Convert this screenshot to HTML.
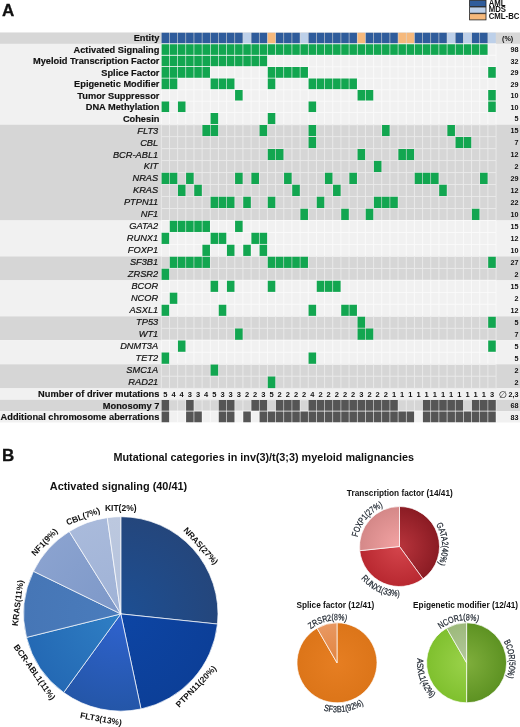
<!DOCTYPE html>
<html><head><meta charset="utf-8"><title>Figure</title>
<style>html,body{margin:0;padding:0;background:#fff}body{width:520px;height:727px;overflow:hidden}</style></head>
<body>
<svg width="520" height="727" viewBox="0 0 520 727" style="display:block">
<defs>
<style>
text{font-family:"Liberation Sans","DejaVu Sans",sans-serif;fill:#111}
.b{font-weight:bold}
.i{font-style:italic}
.lab{font-size:9.25px}
.i{stroke:#111;stroke-width:.2px}
.lab.b{stroke:#111;stroke-width:.15px}
.pc{font-size:7.2px;font-weight:bold}
.num{font-size:7.5px;font-weight:bold}
.pl{font-size:8.5px;font-weight:bold}
.sl{font-size:9px;fill:#1a222c;stroke:#1a222c;stroke-width:.22px}
.st{font-size:8.25px;font-weight:bold}
</style>
</defs>
<rect width="520" height="727" fill="#fff"/>
<rect x="0" y="32.45" width="520" height="11.45" fill="#d7d7d7"/>
<rect x="0" y="43.90" width="520" height="80.75" fill="#f1f1f1"/>
<rect x="0" y="124.65" width="520" height="95.84" fill="#d6d6d6"/>
<rect x="0" y="220.49" width="520" height="35.94" fill="#f1f1f1"/>
<rect x="0" y="256.43" width="520" height="23.96" fill="#d6d6d6"/>
<rect x="0" y="280.39" width="520" height="35.94" fill="#f1f1f1"/>
<rect x="0" y="316.33" width="520" height="23.96" fill="#d6d6d6"/>
<rect x="0" y="340.29" width="520" height="23.96" fill="#f1f1f1"/>
<rect x="0" y="364.25" width="520" height="24.15" fill="#d6d6d6"/>
<rect x="0" y="388.40" width="520" height="11.40" fill="#f1f1f1"/>
<rect x="0" y="399.80" width="520" height="11.40" fill="#d6d6d6"/>
<rect x="0" y="411.20" width="520" height="11.30" fill="#f1f1f1"/>
<path d="M161.60,32.75h7.56v10.85h-7.56zM169.76,32.75h7.56v10.85h-7.56zM177.93,32.75h7.56v10.85h-7.56zM186.09,32.75h7.56v10.85h-7.56zM194.26,32.75h7.56v10.85h-7.56zM202.42,32.75h7.56v10.85h-7.56zM210.59,32.75h7.56v10.85h-7.56zM218.75,32.75h7.56v10.85h-7.56zM226.92,32.75h7.56v10.85h-7.56zM235.08,32.75h7.56v10.85h-7.56zM251.41,32.75h7.56v10.85h-7.56zM259.58,32.75h7.56v10.85h-7.56zM275.91,32.75h7.56v10.85h-7.56zM284.07,32.75h7.56v10.85h-7.56zM292.24,32.75h7.56v10.85h-7.56zM308.57,32.75h7.56v10.85h-7.56zM316.74,32.75h7.56v10.85h-7.56zM324.90,32.75h7.56v10.85h-7.56zM333.06,32.75h7.56v10.85h-7.56zM341.23,32.75h7.56v10.85h-7.56zM349.39,32.75h7.56v10.85h-7.56zM365.72,32.75h7.56v10.85h-7.56zM373.89,32.75h7.56v10.85h-7.56zM382.05,32.75h7.56v10.85h-7.56zM390.22,32.75h7.56v10.85h-7.56zM414.71,32.75h7.56v10.85h-7.56zM422.88,32.75h7.56v10.85h-7.56zM431.04,32.75h7.56v10.85h-7.56zM439.21,32.75h7.56v10.85h-7.56zM455.54,32.75h7.56v10.85h-7.56zM471.87,32.75h7.56v10.85h-7.56zM480.03,32.75h7.56v10.85h-7.56z" fill="#2f5c9b"/>
<path d="M243.25,32.75h7.56v10.85h-7.56zM300.40,32.75h7.56v10.85h-7.56zM447.38,32.75h7.56v10.85h-7.56zM463.70,32.75h7.56v10.85h-7.56zM488.20,32.75h7.56v10.85h-7.56z" fill="#bdd0e9"/>
<path d="M267.75,32.75h7.56v10.85h-7.56zM357.56,32.75h7.56v10.85h-7.56zM398.38,32.75h7.56v10.85h-7.56zM406.55,32.75h7.56v10.85h-7.56z" fill="#f6b97c"/>
<path d="M161.30,43.90v11.45M169.46,43.90v11.45M177.63,43.90v11.45M185.79,43.90v11.45M193.96,43.90v11.45M202.12,43.90v11.45M210.29,43.90v11.45M218.45,43.90v11.45M226.62,43.90v11.45M234.78,43.90v11.45M242.95,43.90v11.45M251.11,43.90v11.45M259.28,43.90v11.45M267.44,43.90v11.45M275.61,43.90v11.45M283.77,43.90v11.45M291.94,43.90v11.45M300.10,43.90v11.45M308.27,43.90v11.45M316.44,43.90v11.45M324.60,43.90v11.45M332.76,43.90v11.45M340.93,43.90v11.45M349.09,43.90v11.45M357.26,43.90v11.45M365.42,43.90v11.45M373.59,43.90v11.45M381.75,43.90v11.45M389.92,43.90v11.45M398.08,43.90v11.45M406.25,43.90v11.45M414.41,43.90v11.45M422.58,43.90v11.45M430.74,43.90v11.45M438.91,43.90v11.45M447.07,43.90v11.45M455.24,43.90v11.45M463.40,43.90v11.45M471.57,43.90v11.45M479.73,43.90v11.45M487.90,43.90v11.45M496.06,43.90v11.45M161.30,43.90H496.06" fill="none" stroke="#fbfbfb" stroke-width="0.9"/>
<path d="M161.60,44.20h7.56v10.85h-7.56zM169.76,44.20h7.56v10.85h-7.56zM177.93,44.20h7.56v10.85h-7.56zM186.09,44.20h7.56v10.85h-7.56zM194.26,44.20h7.56v10.85h-7.56zM202.42,44.20h7.56v10.85h-7.56zM210.59,44.20h7.56v10.85h-7.56zM218.75,44.20h7.56v10.85h-7.56zM226.92,44.20h7.56v10.85h-7.56zM235.08,44.20h7.56v10.85h-7.56zM243.25,44.20h7.56v10.85h-7.56zM251.41,44.20h7.56v10.85h-7.56zM259.58,44.20h7.56v10.85h-7.56zM267.75,44.20h7.56v10.85h-7.56zM275.91,44.20h7.56v10.85h-7.56zM284.07,44.20h7.56v10.85h-7.56zM292.24,44.20h7.56v10.85h-7.56zM300.40,44.20h7.56v10.85h-7.56zM308.57,44.20h7.56v10.85h-7.56zM316.74,44.20h7.56v10.85h-7.56zM324.90,44.20h7.56v10.85h-7.56zM333.06,44.20h7.56v10.85h-7.56zM341.23,44.20h7.56v10.85h-7.56zM349.39,44.20h7.56v10.85h-7.56zM357.56,44.20h7.56v10.85h-7.56zM365.72,44.20h7.56v10.85h-7.56zM373.89,44.20h7.56v10.85h-7.56zM382.05,44.20h7.56v10.85h-7.56zM390.22,44.20h7.56v10.85h-7.56zM398.38,44.20h7.56v10.85h-7.56zM406.55,44.20h7.56v10.85h-7.56zM414.71,44.20h7.56v10.85h-7.56zM422.88,44.20h7.56v10.85h-7.56zM431.04,44.20h7.56v10.85h-7.56zM439.21,44.20h7.56v10.85h-7.56zM447.38,44.20h7.56v10.85h-7.56zM455.54,44.20h7.56v10.85h-7.56zM463.70,44.20h7.56v10.85h-7.56zM471.87,44.20h7.56v10.85h-7.56zM480.03,44.20h7.56v10.85h-7.56z" fill="#12a650"/>
<path d="M161.30,55.35v11.45M169.46,55.35v11.45M177.63,55.35v11.45M185.79,55.35v11.45M193.96,55.35v11.45M202.12,55.35v11.45M210.29,55.35v11.45M218.45,55.35v11.45M226.62,55.35v11.45M234.78,55.35v11.45M242.95,55.35v11.45M251.11,55.35v11.45M259.28,55.35v11.45M267.44,55.35v11.45M275.61,55.35v11.45M283.77,55.35v11.45M291.94,55.35v11.45M300.10,55.35v11.45M308.27,55.35v11.45M316.44,55.35v11.45M324.60,55.35v11.45M332.76,55.35v11.45M340.93,55.35v11.45M349.09,55.35v11.45M357.26,55.35v11.45M365.42,55.35v11.45M373.59,55.35v11.45M381.75,55.35v11.45M389.92,55.35v11.45M398.08,55.35v11.45M406.25,55.35v11.45M414.41,55.35v11.45M422.58,55.35v11.45M430.74,55.35v11.45M438.91,55.35v11.45M447.07,55.35v11.45M455.24,55.35v11.45M463.40,55.35v11.45M471.57,55.35v11.45M479.73,55.35v11.45M487.90,55.35v11.45M496.06,55.35v11.45M161.30,55.35H496.06" fill="none" stroke="#fbfbfb" stroke-width="0.9"/>
<path d="M161.60,55.65h7.56v10.85h-7.56zM169.76,55.65h7.56v10.85h-7.56zM177.93,55.65h7.56v10.85h-7.56zM186.09,55.65h7.56v10.85h-7.56zM194.26,55.65h7.56v10.85h-7.56zM202.42,55.65h7.56v10.85h-7.56zM210.59,55.65h7.56v10.85h-7.56zM218.75,55.65h7.56v10.85h-7.56zM226.92,55.65h7.56v10.85h-7.56zM235.08,55.65h7.56v10.85h-7.56zM243.25,55.65h7.56v10.85h-7.56zM251.41,55.65h7.56v10.85h-7.56zM259.58,55.65h7.56v10.85h-7.56z" fill="#12a650"/>
<path d="M161.30,66.80v11.45M169.46,66.80v11.45M177.63,66.80v11.45M185.79,66.80v11.45M193.96,66.80v11.45M202.12,66.80v11.45M210.29,66.80v11.45M218.45,66.80v11.45M226.62,66.80v11.45M234.78,66.80v11.45M242.95,66.80v11.45M251.11,66.80v11.45M259.28,66.80v11.45M267.44,66.80v11.45M275.61,66.80v11.45M283.77,66.80v11.45M291.94,66.80v11.45M300.10,66.80v11.45M308.27,66.80v11.45M316.44,66.80v11.45M324.60,66.80v11.45M332.76,66.80v11.45M340.93,66.80v11.45M349.09,66.80v11.45M357.26,66.80v11.45M365.42,66.80v11.45M373.59,66.80v11.45M381.75,66.80v11.45M389.92,66.80v11.45M398.08,66.80v11.45M406.25,66.80v11.45M414.41,66.80v11.45M422.58,66.80v11.45M430.74,66.80v11.45M438.91,66.80v11.45M447.07,66.80v11.45M455.24,66.80v11.45M463.40,66.80v11.45M471.57,66.80v11.45M479.73,66.80v11.45M487.90,66.80v11.45M496.06,66.80v11.45M161.30,66.80H496.06" fill="none" stroke="#fbfbfb" stroke-width="0.9"/>
<path d="M161.60,67.10h7.56v10.85h-7.56zM169.76,67.10h7.56v10.85h-7.56zM177.93,67.10h7.56v10.85h-7.56zM186.09,67.10h7.56v10.85h-7.56zM194.26,67.10h7.56v10.85h-7.56zM202.42,67.10h7.56v10.85h-7.56zM267.75,67.10h7.56v10.85h-7.56zM275.91,67.10h7.56v10.85h-7.56zM284.07,67.10h7.56v10.85h-7.56zM292.24,67.10h7.56v10.85h-7.56zM300.40,67.10h7.56v10.85h-7.56zM488.20,67.10h7.56v10.85h-7.56z" fill="#12a650"/>
<path d="M161.30,78.25v11.45M169.46,78.25v11.45M177.63,78.25v11.45M185.79,78.25v11.45M193.96,78.25v11.45M202.12,78.25v11.45M210.29,78.25v11.45M218.45,78.25v11.45M226.62,78.25v11.45M234.78,78.25v11.45M242.95,78.25v11.45M251.11,78.25v11.45M259.28,78.25v11.45M267.44,78.25v11.45M275.61,78.25v11.45M283.77,78.25v11.45M291.94,78.25v11.45M300.10,78.25v11.45M308.27,78.25v11.45M316.44,78.25v11.45M324.60,78.25v11.45M332.76,78.25v11.45M340.93,78.25v11.45M349.09,78.25v11.45M357.26,78.25v11.45M365.42,78.25v11.45M373.59,78.25v11.45M381.75,78.25v11.45M389.92,78.25v11.45M398.08,78.25v11.45M406.25,78.25v11.45M414.41,78.25v11.45M422.58,78.25v11.45M430.74,78.25v11.45M438.91,78.25v11.45M447.07,78.25v11.45M455.24,78.25v11.45M463.40,78.25v11.45M471.57,78.25v11.45M479.73,78.25v11.45M487.90,78.25v11.45M496.06,78.25v11.45M161.30,78.25H496.06" fill="none" stroke="#fbfbfb" stroke-width="0.9"/>
<path d="M161.60,78.55h7.56v10.85h-7.56zM169.76,78.55h7.56v10.85h-7.56zM210.59,78.55h7.56v10.85h-7.56zM218.75,78.55h7.56v10.85h-7.56zM226.92,78.55h7.56v10.85h-7.56zM267.75,78.55h7.56v10.85h-7.56zM308.57,78.55h7.56v10.85h-7.56zM316.74,78.55h7.56v10.85h-7.56zM324.90,78.55h7.56v10.85h-7.56zM333.06,78.55h7.56v10.85h-7.56zM341.23,78.55h7.56v10.85h-7.56zM349.39,78.55h7.56v10.85h-7.56z" fill="#12a650"/>
<path d="M161.30,89.70v11.45M169.46,89.70v11.45M177.63,89.70v11.45M185.79,89.70v11.45M193.96,89.70v11.45M202.12,89.70v11.45M210.29,89.70v11.45M218.45,89.70v11.45M226.62,89.70v11.45M234.78,89.70v11.45M242.95,89.70v11.45M251.11,89.70v11.45M259.28,89.70v11.45M267.44,89.70v11.45M275.61,89.70v11.45M283.77,89.70v11.45M291.94,89.70v11.45M300.10,89.70v11.45M308.27,89.70v11.45M316.44,89.70v11.45M324.60,89.70v11.45M332.76,89.70v11.45M340.93,89.70v11.45M349.09,89.70v11.45M357.26,89.70v11.45M365.42,89.70v11.45M373.59,89.70v11.45M381.75,89.70v11.45M389.92,89.70v11.45M398.08,89.70v11.45M406.25,89.70v11.45M414.41,89.70v11.45M422.58,89.70v11.45M430.74,89.70v11.45M438.91,89.70v11.45M447.07,89.70v11.45M455.24,89.70v11.45M463.40,89.70v11.45M471.57,89.70v11.45M479.73,89.70v11.45M487.90,89.70v11.45M496.06,89.70v11.45M161.30,89.70H496.06" fill="none" stroke="#fbfbfb" stroke-width="0.9"/>
<path d="M235.08,90.00h7.56v10.85h-7.56zM357.56,90.00h7.56v10.85h-7.56zM365.72,90.00h7.56v10.85h-7.56zM488.20,90.00h7.56v10.85h-7.56z" fill="#12a650"/>
<path d="M161.30,101.15v11.45M169.46,101.15v11.45M177.63,101.15v11.45M185.79,101.15v11.45M193.96,101.15v11.45M202.12,101.15v11.45M210.29,101.15v11.45M218.45,101.15v11.45M226.62,101.15v11.45M234.78,101.15v11.45M242.95,101.15v11.45M251.11,101.15v11.45M259.28,101.15v11.45M267.44,101.15v11.45M275.61,101.15v11.45M283.77,101.15v11.45M291.94,101.15v11.45M300.10,101.15v11.45M308.27,101.15v11.45M316.44,101.15v11.45M324.60,101.15v11.45M332.76,101.15v11.45M340.93,101.15v11.45M349.09,101.15v11.45M357.26,101.15v11.45M365.42,101.15v11.45M373.59,101.15v11.45M381.75,101.15v11.45M389.92,101.15v11.45M398.08,101.15v11.45M406.25,101.15v11.45M414.41,101.15v11.45M422.58,101.15v11.45M430.74,101.15v11.45M438.91,101.15v11.45M447.07,101.15v11.45M455.24,101.15v11.45M463.40,101.15v11.45M471.57,101.15v11.45M479.73,101.15v11.45M487.90,101.15v11.45M496.06,101.15v11.45M161.30,101.15H496.06" fill="none" stroke="#fbfbfb" stroke-width="0.9"/>
<path d="M161.60,101.45h7.56v10.85h-7.56zM177.93,101.45h7.56v10.85h-7.56zM308.57,101.45h7.56v10.85h-7.56zM488.20,101.45h7.56v10.85h-7.56z" fill="#12a650"/>
<path d="M161.30,112.60v12.05M169.46,112.60v12.05M177.63,112.60v12.05M185.79,112.60v12.05M193.96,112.60v12.05M202.12,112.60v12.05M210.29,112.60v12.05M218.45,112.60v12.05M226.62,112.60v12.05M234.78,112.60v12.05M242.95,112.60v12.05M251.11,112.60v12.05M259.28,112.60v12.05M267.44,112.60v12.05M275.61,112.60v12.05M283.77,112.60v12.05M291.94,112.60v12.05M300.10,112.60v12.05M308.27,112.60v12.05M316.44,112.60v12.05M324.60,112.60v12.05M332.76,112.60v12.05M340.93,112.60v12.05M349.09,112.60v12.05M357.26,112.60v12.05M365.42,112.60v12.05M373.59,112.60v12.05M381.75,112.60v12.05M389.92,112.60v12.05M398.08,112.60v12.05M406.25,112.60v12.05M414.41,112.60v12.05M422.58,112.60v12.05M430.74,112.60v12.05M438.91,112.60v12.05M447.07,112.60v12.05M455.24,112.60v12.05M463.40,112.60v12.05M471.57,112.60v12.05M479.73,112.60v12.05M487.90,112.60v12.05M496.06,112.60v12.05M161.30,112.60H496.06M161.30,124.65H496.06" fill="none" stroke="#fbfbfb" stroke-width="0.9"/>
<path d="M210.59,112.90h7.56v11.45h-7.56zM267.75,112.90h7.56v11.45h-7.56z" fill="#12a650"/>
<path d="M161.30,124.65v11.98M169.46,124.65v11.98M177.63,124.65v11.98M185.79,124.65v11.98M193.96,124.65v11.98M202.12,124.65v11.98M210.29,124.65v11.98M218.45,124.65v11.98M226.62,124.65v11.98M234.78,124.65v11.98M242.95,124.65v11.98M251.11,124.65v11.98M259.28,124.65v11.98M267.44,124.65v11.98M275.61,124.65v11.98M283.77,124.65v11.98M291.94,124.65v11.98M300.10,124.65v11.98M308.27,124.65v11.98M316.44,124.65v11.98M324.60,124.65v11.98M332.76,124.65v11.98M340.93,124.65v11.98M349.09,124.65v11.98M357.26,124.65v11.98M365.42,124.65v11.98M373.59,124.65v11.98M381.75,124.65v11.98M389.92,124.65v11.98M398.08,124.65v11.98M406.25,124.65v11.98M414.41,124.65v11.98M422.58,124.65v11.98M430.74,124.65v11.98M438.91,124.65v11.98M447.07,124.65v11.98M455.24,124.65v11.98M463.40,124.65v11.98M471.57,124.65v11.98M479.73,124.65v11.98M487.90,124.65v11.98M496.06,124.65v11.98M161.30,124.65H496.06" fill="none" stroke="#ebebeb" stroke-width="0.9"/>
<path d="M202.42,124.95h7.56v11.38h-7.56zM210.59,124.95h7.56v11.38h-7.56zM259.58,124.95h7.56v11.38h-7.56zM308.57,124.95h7.56v11.38h-7.56zM382.05,124.95h7.56v11.38h-7.56zM447.38,124.95h7.56v11.38h-7.56z" fill="#12a650"/>
<path d="M161.30,136.63v11.98M169.46,136.63v11.98M177.63,136.63v11.98M185.79,136.63v11.98M193.96,136.63v11.98M202.12,136.63v11.98M210.29,136.63v11.98M218.45,136.63v11.98M226.62,136.63v11.98M234.78,136.63v11.98M242.95,136.63v11.98M251.11,136.63v11.98M259.28,136.63v11.98M267.44,136.63v11.98M275.61,136.63v11.98M283.77,136.63v11.98M291.94,136.63v11.98M300.10,136.63v11.98M308.27,136.63v11.98M316.44,136.63v11.98M324.60,136.63v11.98M332.76,136.63v11.98M340.93,136.63v11.98M349.09,136.63v11.98M357.26,136.63v11.98M365.42,136.63v11.98M373.59,136.63v11.98M381.75,136.63v11.98M389.92,136.63v11.98M398.08,136.63v11.98M406.25,136.63v11.98M414.41,136.63v11.98M422.58,136.63v11.98M430.74,136.63v11.98M438.91,136.63v11.98M447.07,136.63v11.98M455.24,136.63v11.98M463.40,136.63v11.98M471.57,136.63v11.98M479.73,136.63v11.98M487.90,136.63v11.98M496.06,136.63v11.98M161.30,136.63H496.06" fill="none" stroke="#ebebeb" stroke-width="0.9"/>
<path d="M308.57,136.93h7.56v11.38h-7.56zM455.54,136.93h7.56v11.38h-7.56zM463.70,136.93h7.56v11.38h-7.56z" fill="#12a650"/>
<path d="M161.30,148.61v11.98M169.46,148.61v11.98M177.63,148.61v11.98M185.79,148.61v11.98M193.96,148.61v11.98M202.12,148.61v11.98M210.29,148.61v11.98M218.45,148.61v11.98M226.62,148.61v11.98M234.78,148.61v11.98M242.95,148.61v11.98M251.11,148.61v11.98M259.28,148.61v11.98M267.44,148.61v11.98M275.61,148.61v11.98M283.77,148.61v11.98M291.94,148.61v11.98M300.10,148.61v11.98M308.27,148.61v11.98M316.44,148.61v11.98M324.60,148.61v11.98M332.76,148.61v11.98M340.93,148.61v11.98M349.09,148.61v11.98M357.26,148.61v11.98M365.42,148.61v11.98M373.59,148.61v11.98M381.75,148.61v11.98M389.92,148.61v11.98M398.08,148.61v11.98M406.25,148.61v11.98M414.41,148.61v11.98M422.58,148.61v11.98M430.74,148.61v11.98M438.91,148.61v11.98M447.07,148.61v11.98M455.24,148.61v11.98M463.40,148.61v11.98M471.57,148.61v11.98M479.73,148.61v11.98M487.90,148.61v11.98M496.06,148.61v11.98M161.30,148.61H496.06" fill="none" stroke="#ebebeb" stroke-width="0.9"/>
<path d="M267.75,148.91h7.56v11.38h-7.56zM275.91,148.91h7.56v11.38h-7.56zM357.56,148.91h7.56v11.38h-7.56zM398.38,148.91h7.56v11.38h-7.56zM406.55,148.91h7.56v11.38h-7.56z" fill="#12a650"/>
<path d="M161.30,160.59v11.98M169.46,160.59v11.98M177.63,160.59v11.98M185.79,160.59v11.98M193.96,160.59v11.98M202.12,160.59v11.98M210.29,160.59v11.98M218.45,160.59v11.98M226.62,160.59v11.98M234.78,160.59v11.98M242.95,160.59v11.98M251.11,160.59v11.98M259.28,160.59v11.98M267.44,160.59v11.98M275.61,160.59v11.98M283.77,160.59v11.98M291.94,160.59v11.98M300.10,160.59v11.98M308.27,160.59v11.98M316.44,160.59v11.98M324.60,160.59v11.98M332.76,160.59v11.98M340.93,160.59v11.98M349.09,160.59v11.98M357.26,160.59v11.98M365.42,160.59v11.98M373.59,160.59v11.98M381.75,160.59v11.98M389.92,160.59v11.98M398.08,160.59v11.98M406.25,160.59v11.98M414.41,160.59v11.98M422.58,160.59v11.98M430.74,160.59v11.98M438.91,160.59v11.98M447.07,160.59v11.98M455.24,160.59v11.98M463.40,160.59v11.98M471.57,160.59v11.98M479.73,160.59v11.98M487.90,160.59v11.98M496.06,160.59v11.98M161.30,160.59H496.06" fill="none" stroke="#ebebeb" stroke-width="0.9"/>
<path d="M373.89,160.89h7.56v11.38h-7.56z" fill="#12a650"/>
<path d="M161.30,172.57v11.98M169.46,172.57v11.98M177.63,172.57v11.98M185.79,172.57v11.98M193.96,172.57v11.98M202.12,172.57v11.98M210.29,172.57v11.98M218.45,172.57v11.98M226.62,172.57v11.98M234.78,172.57v11.98M242.95,172.57v11.98M251.11,172.57v11.98M259.28,172.57v11.98M267.44,172.57v11.98M275.61,172.57v11.98M283.77,172.57v11.98M291.94,172.57v11.98M300.10,172.57v11.98M308.27,172.57v11.98M316.44,172.57v11.98M324.60,172.57v11.98M332.76,172.57v11.98M340.93,172.57v11.98M349.09,172.57v11.98M357.26,172.57v11.98M365.42,172.57v11.98M373.59,172.57v11.98M381.75,172.57v11.98M389.92,172.57v11.98M398.08,172.57v11.98M406.25,172.57v11.98M414.41,172.57v11.98M422.58,172.57v11.98M430.74,172.57v11.98M438.91,172.57v11.98M447.07,172.57v11.98M455.24,172.57v11.98M463.40,172.57v11.98M471.57,172.57v11.98M479.73,172.57v11.98M487.90,172.57v11.98M496.06,172.57v11.98M161.30,172.57H496.06" fill="none" stroke="#ebebeb" stroke-width="0.9"/>
<path d="M161.60,172.87h7.56v11.38h-7.56zM169.76,172.87h7.56v11.38h-7.56zM186.09,172.87h7.56v11.38h-7.56zM235.08,172.87h7.56v11.38h-7.56zM251.41,172.87h7.56v11.38h-7.56zM284.07,172.87h7.56v11.38h-7.56zM324.90,172.87h7.56v11.38h-7.56zM349.39,172.87h7.56v11.38h-7.56zM414.71,172.87h7.56v11.38h-7.56zM422.88,172.87h7.56v11.38h-7.56zM431.04,172.87h7.56v11.38h-7.56zM480.03,172.87h7.56v11.38h-7.56z" fill="#12a650"/>
<path d="M161.30,184.55v11.98M169.46,184.55v11.98M177.63,184.55v11.98M185.79,184.55v11.98M193.96,184.55v11.98M202.12,184.55v11.98M210.29,184.55v11.98M218.45,184.55v11.98M226.62,184.55v11.98M234.78,184.55v11.98M242.95,184.55v11.98M251.11,184.55v11.98M259.28,184.55v11.98M267.44,184.55v11.98M275.61,184.55v11.98M283.77,184.55v11.98M291.94,184.55v11.98M300.10,184.55v11.98M308.27,184.55v11.98M316.44,184.55v11.98M324.60,184.55v11.98M332.76,184.55v11.98M340.93,184.55v11.98M349.09,184.55v11.98M357.26,184.55v11.98M365.42,184.55v11.98M373.59,184.55v11.98M381.75,184.55v11.98M389.92,184.55v11.98M398.08,184.55v11.98M406.25,184.55v11.98M414.41,184.55v11.98M422.58,184.55v11.98M430.74,184.55v11.98M438.91,184.55v11.98M447.07,184.55v11.98M455.24,184.55v11.98M463.40,184.55v11.98M471.57,184.55v11.98M479.73,184.55v11.98M487.90,184.55v11.98M496.06,184.55v11.98M161.30,184.55H496.06" fill="none" stroke="#ebebeb" stroke-width="0.9"/>
<path d="M177.93,184.85h7.56v11.38h-7.56zM194.26,184.85h7.56v11.38h-7.56zM292.24,184.85h7.56v11.38h-7.56zM333.06,184.85h7.56v11.38h-7.56zM439.21,184.85h7.56v11.38h-7.56z" fill="#12a650"/>
<path d="M161.30,196.53v11.98M169.46,196.53v11.98M177.63,196.53v11.98M185.79,196.53v11.98M193.96,196.53v11.98M202.12,196.53v11.98M210.29,196.53v11.98M218.45,196.53v11.98M226.62,196.53v11.98M234.78,196.53v11.98M242.95,196.53v11.98M251.11,196.53v11.98M259.28,196.53v11.98M267.44,196.53v11.98M275.61,196.53v11.98M283.77,196.53v11.98M291.94,196.53v11.98M300.10,196.53v11.98M308.27,196.53v11.98M316.44,196.53v11.98M324.60,196.53v11.98M332.76,196.53v11.98M340.93,196.53v11.98M349.09,196.53v11.98M357.26,196.53v11.98M365.42,196.53v11.98M373.59,196.53v11.98M381.75,196.53v11.98M389.92,196.53v11.98M398.08,196.53v11.98M406.25,196.53v11.98M414.41,196.53v11.98M422.58,196.53v11.98M430.74,196.53v11.98M438.91,196.53v11.98M447.07,196.53v11.98M455.24,196.53v11.98M463.40,196.53v11.98M471.57,196.53v11.98M479.73,196.53v11.98M487.90,196.53v11.98M496.06,196.53v11.98M161.30,196.53H496.06" fill="none" stroke="#ebebeb" stroke-width="0.9"/>
<path d="M210.59,196.83h7.56v11.38h-7.56zM218.75,196.83h7.56v11.38h-7.56zM226.92,196.83h7.56v11.38h-7.56zM243.25,196.83h7.56v11.38h-7.56zM267.75,196.83h7.56v11.38h-7.56zM316.74,196.83h7.56v11.38h-7.56zM373.89,196.83h7.56v11.38h-7.56zM382.05,196.83h7.56v11.38h-7.56zM390.22,196.83h7.56v11.38h-7.56z" fill="#12a650"/>
<path d="M161.30,208.51v11.98M169.46,208.51v11.98M177.63,208.51v11.98M185.79,208.51v11.98M193.96,208.51v11.98M202.12,208.51v11.98M210.29,208.51v11.98M218.45,208.51v11.98M226.62,208.51v11.98M234.78,208.51v11.98M242.95,208.51v11.98M251.11,208.51v11.98M259.28,208.51v11.98M267.44,208.51v11.98M275.61,208.51v11.98M283.77,208.51v11.98M291.94,208.51v11.98M300.10,208.51v11.98M308.27,208.51v11.98M316.44,208.51v11.98M324.60,208.51v11.98M332.76,208.51v11.98M340.93,208.51v11.98M349.09,208.51v11.98M357.26,208.51v11.98M365.42,208.51v11.98M373.59,208.51v11.98M381.75,208.51v11.98M389.92,208.51v11.98M398.08,208.51v11.98M406.25,208.51v11.98M414.41,208.51v11.98M422.58,208.51v11.98M430.74,208.51v11.98M438.91,208.51v11.98M447.07,208.51v11.98M455.24,208.51v11.98M463.40,208.51v11.98M471.57,208.51v11.98M479.73,208.51v11.98M487.90,208.51v11.98M496.06,208.51v11.98M161.30,208.51H496.06M161.30,220.49H496.06" fill="none" stroke="#ebebeb" stroke-width="0.9"/>
<path d="M300.40,208.81h7.56v11.38h-7.56zM341.23,208.81h7.56v11.38h-7.56zM365.72,208.81h7.56v11.38h-7.56zM471.87,208.81h7.56v11.38h-7.56z" fill="#12a650"/>
<path d="M161.30,220.49v11.98M169.46,220.49v11.98M177.63,220.49v11.98M185.79,220.49v11.98M193.96,220.49v11.98M202.12,220.49v11.98M210.29,220.49v11.98M218.45,220.49v11.98M226.62,220.49v11.98M234.78,220.49v11.98M242.95,220.49v11.98M251.11,220.49v11.98M259.28,220.49v11.98M267.44,220.49v11.98M275.61,220.49v11.98M283.77,220.49v11.98M291.94,220.49v11.98M300.10,220.49v11.98M308.27,220.49v11.98M316.44,220.49v11.98M324.60,220.49v11.98M332.76,220.49v11.98M340.93,220.49v11.98M349.09,220.49v11.98M357.26,220.49v11.98M365.42,220.49v11.98M373.59,220.49v11.98M381.75,220.49v11.98M389.92,220.49v11.98M398.08,220.49v11.98M406.25,220.49v11.98M414.41,220.49v11.98M422.58,220.49v11.98M430.74,220.49v11.98M438.91,220.49v11.98M447.07,220.49v11.98M455.24,220.49v11.98M463.40,220.49v11.98M471.57,220.49v11.98M479.73,220.49v11.98M487.90,220.49v11.98M496.06,220.49v11.98M161.30,220.49H496.06" fill="none" stroke="#fbfbfb" stroke-width="0.9"/>
<path d="M169.76,220.79h7.56v11.38h-7.56zM177.93,220.79h7.56v11.38h-7.56zM186.09,220.79h7.56v11.38h-7.56zM194.26,220.79h7.56v11.38h-7.56zM202.42,220.79h7.56v11.38h-7.56zM235.08,220.79h7.56v11.38h-7.56z" fill="#12a650"/>
<path d="M161.30,232.47v11.98M169.46,232.47v11.98M177.63,232.47v11.98M185.79,232.47v11.98M193.96,232.47v11.98M202.12,232.47v11.98M210.29,232.47v11.98M218.45,232.47v11.98M226.62,232.47v11.98M234.78,232.47v11.98M242.95,232.47v11.98M251.11,232.47v11.98M259.28,232.47v11.98M267.44,232.47v11.98M275.61,232.47v11.98M283.77,232.47v11.98M291.94,232.47v11.98M300.10,232.47v11.98M308.27,232.47v11.98M316.44,232.47v11.98M324.60,232.47v11.98M332.76,232.47v11.98M340.93,232.47v11.98M349.09,232.47v11.98M357.26,232.47v11.98M365.42,232.47v11.98M373.59,232.47v11.98M381.75,232.47v11.98M389.92,232.47v11.98M398.08,232.47v11.98M406.25,232.47v11.98M414.41,232.47v11.98M422.58,232.47v11.98M430.74,232.47v11.98M438.91,232.47v11.98M447.07,232.47v11.98M455.24,232.47v11.98M463.40,232.47v11.98M471.57,232.47v11.98M479.73,232.47v11.98M487.90,232.47v11.98M496.06,232.47v11.98M161.30,232.47H496.06" fill="none" stroke="#fbfbfb" stroke-width="0.9"/>
<path d="M161.60,232.77h7.56v11.38h-7.56zM210.59,232.77h7.56v11.38h-7.56zM218.75,232.77h7.56v11.38h-7.56zM251.41,232.77h7.56v11.38h-7.56zM259.58,232.77h7.56v11.38h-7.56z" fill="#12a650"/>
<path d="M161.30,244.45v11.98M169.46,244.45v11.98M177.63,244.45v11.98M185.79,244.45v11.98M193.96,244.45v11.98M202.12,244.45v11.98M210.29,244.45v11.98M218.45,244.45v11.98M226.62,244.45v11.98M234.78,244.45v11.98M242.95,244.45v11.98M251.11,244.45v11.98M259.28,244.45v11.98M267.44,244.45v11.98M275.61,244.45v11.98M283.77,244.45v11.98M291.94,244.45v11.98M300.10,244.45v11.98M308.27,244.45v11.98M316.44,244.45v11.98M324.60,244.45v11.98M332.76,244.45v11.98M340.93,244.45v11.98M349.09,244.45v11.98M357.26,244.45v11.98M365.42,244.45v11.98M373.59,244.45v11.98M381.75,244.45v11.98M389.92,244.45v11.98M398.08,244.45v11.98M406.25,244.45v11.98M414.41,244.45v11.98M422.58,244.45v11.98M430.74,244.45v11.98M438.91,244.45v11.98M447.07,244.45v11.98M455.24,244.45v11.98M463.40,244.45v11.98M471.57,244.45v11.98M479.73,244.45v11.98M487.90,244.45v11.98M496.06,244.45v11.98M161.30,244.45H496.06M161.30,256.43H496.06" fill="none" stroke="#fbfbfb" stroke-width="0.9"/>
<path d="M202.42,244.75h7.56v11.38h-7.56zM226.92,244.75h7.56v11.38h-7.56zM243.25,244.75h7.56v11.38h-7.56zM259.58,244.75h7.56v11.38h-7.56z" fill="#12a650"/>
<path d="M161.30,256.43v11.98M169.46,256.43v11.98M177.63,256.43v11.98M185.79,256.43v11.98M193.96,256.43v11.98M202.12,256.43v11.98M210.29,256.43v11.98M218.45,256.43v11.98M226.62,256.43v11.98M234.78,256.43v11.98M242.95,256.43v11.98M251.11,256.43v11.98M259.28,256.43v11.98M267.44,256.43v11.98M275.61,256.43v11.98M283.77,256.43v11.98M291.94,256.43v11.98M300.10,256.43v11.98M308.27,256.43v11.98M316.44,256.43v11.98M324.60,256.43v11.98M332.76,256.43v11.98M340.93,256.43v11.98M349.09,256.43v11.98M357.26,256.43v11.98M365.42,256.43v11.98M373.59,256.43v11.98M381.75,256.43v11.98M389.92,256.43v11.98M398.08,256.43v11.98M406.25,256.43v11.98M414.41,256.43v11.98M422.58,256.43v11.98M430.74,256.43v11.98M438.91,256.43v11.98M447.07,256.43v11.98M455.24,256.43v11.98M463.40,256.43v11.98M471.57,256.43v11.98M479.73,256.43v11.98M487.90,256.43v11.98M496.06,256.43v11.98M161.30,256.43H496.06" fill="none" stroke="#ebebeb" stroke-width="0.9"/>
<path d="M169.76,256.73h7.56v11.38h-7.56zM177.93,256.73h7.56v11.38h-7.56zM186.09,256.73h7.56v11.38h-7.56zM194.26,256.73h7.56v11.38h-7.56zM202.42,256.73h7.56v11.38h-7.56zM267.75,256.73h7.56v11.38h-7.56zM275.91,256.73h7.56v11.38h-7.56zM284.07,256.73h7.56v11.38h-7.56zM292.24,256.73h7.56v11.38h-7.56zM300.40,256.73h7.56v11.38h-7.56zM488.20,256.73h7.56v11.38h-7.56z" fill="#12a650"/>
<path d="M161.30,268.41v11.98M169.46,268.41v11.98M177.63,268.41v11.98M185.79,268.41v11.98M193.96,268.41v11.98M202.12,268.41v11.98M210.29,268.41v11.98M218.45,268.41v11.98M226.62,268.41v11.98M234.78,268.41v11.98M242.95,268.41v11.98M251.11,268.41v11.98M259.28,268.41v11.98M267.44,268.41v11.98M275.61,268.41v11.98M283.77,268.41v11.98M291.94,268.41v11.98M300.10,268.41v11.98M308.27,268.41v11.98M316.44,268.41v11.98M324.60,268.41v11.98M332.76,268.41v11.98M340.93,268.41v11.98M349.09,268.41v11.98M357.26,268.41v11.98M365.42,268.41v11.98M373.59,268.41v11.98M381.75,268.41v11.98M389.92,268.41v11.98M398.08,268.41v11.98M406.25,268.41v11.98M414.41,268.41v11.98M422.58,268.41v11.98M430.74,268.41v11.98M438.91,268.41v11.98M447.07,268.41v11.98M455.24,268.41v11.98M463.40,268.41v11.98M471.57,268.41v11.98M479.73,268.41v11.98M487.90,268.41v11.98M496.06,268.41v11.98M161.30,268.41H496.06M161.30,280.39H496.06" fill="none" stroke="#ebebeb" stroke-width="0.9"/>
<path d="M161.60,268.71h7.56v11.38h-7.56z" fill="#12a650"/>
<path d="M161.30,280.39v11.98M169.46,280.39v11.98M177.63,280.39v11.98M185.79,280.39v11.98M193.96,280.39v11.98M202.12,280.39v11.98M210.29,280.39v11.98M218.45,280.39v11.98M226.62,280.39v11.98M234.78,280.39v11.98M242.95,280.39v11.98M251.11,280.39v11.98M259.28,280.39v11.98M267.44,280.39v11.98M275.61,280.39v11.98M283.77,280.39v11.98M291.94,280.39v11.98M300.10,280.39v11.98M308.27,280.39v11.98M316.44,280.39v11.98M324.60,280.39v11.98M332.76,280.39v11.98M340.93,280.39v11.98M349.09,280.39v11.98M357.26,280.39v11.98M365.42,280.39v11.98M373.59,280.39v11.98M381.75,280.39v11.98M389.92,280.39v11.98M398.08,280.39v11.98M406.25,280.39v11.98M414.41,280.39v11.98M422.58,280.39v11.98M430.74,280.39v11.98M438.91,280.39v11.98M447.07,280.39v11.98M455.24,280.39v11.98M463.40,280.39v11.98M471.57,280.39v11.98M479.73,280.39v11.98M487.90,280.39v11.98M496.06,280.39v11.98M161.30,280.39H496.06" fill="none" stroke="#fbfbfb" stroke-width="0.9"/>
<path d="M210.59,280.69h7.56v11.38h-7.56zM226.92,280.69h7.56v11.38h-7.56zM267.75,280.69h7.56v11.38h-7.56zM316.74,280.69h7.56v11.38h-7.56zM324.90,280.69h7.56v11.38h-7.56zM333.06,280.69h7.56v11.38h-7.56z" fill="#12a650"/>
<path d="M161.30,292.37v11.98M169.46,292.37v11.98M177.63,292.37v11.98M185.79,292.37v11.98M193.96,292.37v11.98M202.12,292.37v11.98M210.29,292.37v11.98M218.45,292.37v11.98M226.62,292.37v11.98M234.78,292.37v11.98M242.95,292.37v11.98M251.11,292.37v11.98M259.28,292.37v11.98M267.44,292.37v11.98M275.61,292.37v11.98M283.77,292.37v11.98M291.94,292.37v11.98M300.10,292.37v11.98M308.27,292.37v11.98M316.44,292.37v11.98M324.60,292.37v11.98M332.76,292.37v11.98M340.93,292.37v11.98M349.09,292.37v11.98M357.26,292.37v11.98M365.42,292.37v11.98M373.59,292.37v11.98M381.75,292.37v11.98M389.92,292.37v11.98M398.08,292.37v11.98M406.25,292.37v11.98M414.41,292.37v11.98M422.58,292.37v11.98M430.74,292.37v11.98M438.91,292.37v11.98M447.07,292.37v11.98M455.24,292.37v11.98M463.40,292.37v11.98M471.57,292.37v11.98M479.73,292.37v11.98M487.90,292.37v11.98M496.06,292.37v11.98M161.30,292.37H496.06" fill="none" stroke="#fbfbfb" stroke-width="0.9"/>
<path d="M169.76,292.67h7.56v11.38h-7.56z" fill="#12a650"/>
<path d="M161.30,304.35v11.98M169.46,304.35v11.98M177.63,304.35v11.98M185.79,304.35v11.98M193.96,304.35v11.98M202.12,304.35v11.98M210.29,304.35v11.98M218.45,304.35v11.98M226.62,304.35v11.98M234.78,304.35v11.98M242.95,304.35v11.98M251.11,304.35v11.98M259.28,304.35v11.98M267.44,304.35v11.98M275.61,304.35v11.98M283.77,304.35v11.98M291.94,304.35v11.98M300.10,304.35v11.98M308.27,304.35v11.98M316.44,304.35v11.98M324.60,304.35v11.98M332.76,304.35v11.98M340.93,304.35v11.98M349.09,304.35v11.98M357.26,304.35v11.98M365.42,304.35v11.98M373.59,304.35v11.98M381.75,304.35v11.98M389.92,304.35v11.98M398.08,304.35v11.98M406.25,304.35v11.98M414.41,304.35v11.98M422.58,304.35v11.98M430.74,304.35v11.98M438.91,304.35v11.98M447.07,304.35v11.98M455.24,304.35v11.98M463.40,304.35v11.98M471.57,304.35v11.98M479.73,304.35v11.98M487.90,304.35v11.98M496.06,304.35v11.98M161.30,304.35H496.06M161.30,316.33H496.06" fill="none" stroke="#fbfbfb" stroke-width="0.9"/>
<path d="M161.60,304.65h7.56v11.38h-7.56zM218.75,304.65h7.56v11.38h-7.56zM308.57,304.65h7.56v11.38h-7.56zM341.23,304.65h7.56v11.38h-7.56zM349.39,304.65h7.56v11.38h-7.56z" fill="#12a650"/>
<path d="M161.30,316.33v11.98M169.46,316.33v11.98M177.63,316.33v11.98M185.79,316.33v11.98M193.96,316.33v11.98M202.12,316.33v11.98M210.29,316.33v11.98M218.45,316.33v11.98M226.62,316.33v11.98M234.78,316.33v11.98M242.95,316.33v11.98M251.11,316.33v11.98M259.28,316.33v11.98M267.44,316.33v11.98M275.61,316.33v11.98M283.77,316.33v11.98M291.94,316.33v11.98M300.10,316.33v11.98M308.27,316.33v11.98M316.44,316.33v11.98M324.60,316.33v11.98M332.76,316.33v11.98M340.93,316.33v11.98M349.09,316.33v11.98M357.26,316.33v11.98M365.42,316.33v11.98M373.59,316.33v11.98M381.75,316.33v11.98M389.92,316.33v11.98M398.08,316.33v11.98M406.25,316.33v11.98M414.41,316.33v11.98M422.58,316.33v11.98M430.74,316.33v11.98M438.91,316.33v11.98M447.07,316.33v11.98M455.24,316.33v11.98M463.40,316.33v11.98M471.57,316.33v11.98M479.73,316.33v11.98M487.90,316.33v11.98M496.06,316.33v11.98M161.30,316.33H496.06" fill="none" stroke="#ebebeb" stroke-width="0.9"/>
<path d="M357.56,316.63h7.56v11.38h-7.56zM488.20,316.63h7.56v11.38h-7.56z" fill="#12a650"/>
<path d="M161.30,328.31v11.98M169.46,328.31v11.98M177.63,328.31v11.98M185.79,328.31v11.98M193.96,328.31v11.98M202.12,328.31v11.98M210.29,328.31v11.98M218.45,328.31v11.98M226.62,328.31v11.98M234.78,328.31v11.98M242.95,328.31v11.98M251.11,328.31v11.98M259.28,328.31v11.98M267.44,328.31v11.98M275.61,328.31v11.98M283.77,328.31v11.98M291.94,328.31v11.98M300.10,328.31v11.98M308.27,328.31v11.98M316.44,328.31v11.98M324.60,328.31v11.98M332.76,328.31v11.98M340.93,328.31v11.98M349.09,328.31v11.98M357.26,328.31v11.98M365.42,328.31v11.98M373.59,328.31v11.98M381.75,328.31v11.98M389.92,328.31v11.98M398.08,328.31v11.98M406.25,328.31v11.98M414.41,328.31v11.98M422.58,328.31v11.98M430.74,328.31v11.98M438.91,328.31v11.98M447.07,328.31v11.98M455.24,328.31v11.98M463.40,328.31v11.98M471.57,328.31v11.98M479.73,328.31v11.98M487.90,328.31v11.98M496.06,328.31v11.98M161.30,328.31H496.06M161.30,340.29H496.06" fill="none" stroke="#ebebeb" stroke-width="0.9"/>
<path d="M235.08,328.61h7.56v11.38h-7.56zM357.56,328.61h7.56v11.38h-7.56zM365.72,328.61h7.56v11.38h-7.56z" fill="#12a650"/>
<path d="M161.30,340.29v11.98M169.46,340.29v11.98M177.63,340.29v11.98M185.79,340.29v11.98M193.96,340.29v11.98M202.12,340.29v11.98M210.29,340.29v11.98M218.45,340.29v11.98M226.62,340.29v11.98M234.78,340.29v11.98M242.95,340.29v11.98M251.11,340.29v11.98M259.28,340.29v11.98M267.44,340.29v11.98M275.61,340.29v11.98M283.77,340.29v11.98M291.94,340.29v11.98M300.10,340.29v11.98M308.27,340.29v11.98M316.44,340.29v11.98M324.60,340.29v11.98M332.76,340.29v11.98M340.93,340.29v11.98M349.09,340.29v11.98M357.26,340.29v11.98M365.42,340.29v11.98M373.59,340.29v11.98M381.75,340.29v11.98M389.92,340.29v11.98M398.08,340.29v11.98M406.25,340.29v11.98M414.41,340.29v11.98M422.58,340.29v11.98M430.74,340.29v11.98M438.91,340.29v11.98M447.07,340.29v11.98M455.24,340.29v11.98M463.40,340.29v11.98M471.57,340.29v11.98M479.73,340.29v11.98M487.90,340.29v11.98M496.06,340.29v11.98M161.30,340.29H496.06" fill="none" stroke="#fbfbfb" stroke-width="0.9"/>
<path d="M177.93,340.59h7.56v11.38h-7.56zM488.20,340.59h7.56v11.38h-7.56z" fill="#12a650"/>
<path d="M161.30,352.27v11.98M169.46,352.27v11.98M177.63,352.27v11.98M185.79,352.27v11.98M193.96,352.27v11.98M202.12,352.27v11.98M210.29,352.27v11.98M218.45,352.27v11.98M226.62,352.27v11.98M234.78,352.27v11.98M242.95,352.27v11.98M251.11,352.27v11.98M259.28,352.27v11.98M267.44,352.27v11.98M275.61,352.27v11.98M283.77,352.27v11.98M291.94,352.27v11.98M300.10,352.27v11.98M308.27,352.27v11.98M316.44,352.27v11.98M324.60,352.27v11.98M332.76,352.27v11.98M340.93,352.27v11.98M349.09,352.27v11.98M357.26,352.27v11.98M365.42,352.27v11.98M373.59,352.27v11.98M381.75,352.27v11.98M389.92,352.27v11.98M398.08,352.27v11.98M406.25,352.27v11.98M414.41,352.27v11.98M422.58,352.27v11.98M430.74,352.27v11.98M438.91,352.27v11.98M447.07,352.27v11.98M455.24,352.27v11.98M463.40,352.27v11.98M471.57,352.27v11.98M479.73,352.27v11.98M487.90,352.27v11.98M496.06,352.27v11.98M161.30,352.27H496.06M161.30,364.25H496.06" fill="none" stroke="#fbfbfb" stroke-width="0.9"/>
<path d="M161.60,352.57h7.56v11.38h-7.56zM308.57,352.57h7.56v11.38h-7.56z" fill="#12a650"/>
<path d="M161.30,364.25v11.98M169.46,364.25v11.98M177.63,364.25v11.98M185.79,364.25v11.98M193.96,364.25v11.98M202.12,364.25v11.98M210.29,364.25v11.98M218.45,364.25v11.98M226.62,364.25v11.98M234.78,364.25v11.98M242.95,364.25v11.98M251.11,364.25v11.98M259.28,364.25v11.98M267.44,364.25v11.98M275.61,364.25v11.98M283.77,364.25v11.98M291.94,364.25v11.98M300.10,364.25v11.98M308.27,364.25v11.98M316.44,364.25v11.98M324.60,364.25v11.98M332.76,364.25v11.98M340.93,364.25v11.98M349.09,364.25v11.98M357.26,364.25v11.98M365.42,364.25v11.98M373.59,364.25v11.98M381.75,364.25v11.98M389.92,364.25v11.98M398.08,364.25v11.98M406.25,364.25v11.98M414.41,364.25v11.98M422.58,364.25v11.98M430.74,364.25v11.98M438.91,364.25v11.98M447.07,364.25v11.98M455.24,364.25v11.98M463.40,364.25v11.98M471.57,364.25v11.98M479.73,364.25v11.98M487.90,364.25v11.98M496.06,364.25v11.98M161.30,364.25H496.06" fill="none" stroke="#ebebeb" stroke-width="0.9"/>
<path d="M210.59,364.55h7.56v11.38h-7.56z" fill="#12a650"/>
<path d="M161.30,376.23v12.17M169.46,376.23v12.17M177.63,376.23v12.17M185.79,376.23v12.17M193.96,376.23v12.17M202.12,376.23v12.17M210.29,376.23v12.17M218.45,376.23v12.17M226.62,376.23v12.17M234.78,376.23v12.17M242.95,376.23v12.17M251.11,376.23v12.17M259.28,376.23v12.17M267.44,376.23v12.17M275.61,376.23v12.17M283.77,376.23v12.17M291.94,376.23v12.17M300.10,376.23v12.17M308.27,376.23v12.17M316.44,376.23v12.17M324.60,376.23v12.17M332.76,376.23v12.17M340.93,376.23v12.17M349.09,376.23v12.17M357.26,376.23v12.17M365.42,376.23v12.17M373.59,376.23v12.17M381.75,376.23v12.17M389.92,376.23v12.17M398.08,376.23v12.17M406.25,376.23v12.17M414.41,376.23v12.17M422.58,376.23v12.17M430.74,376.23v12.17M438.91,376.23v12.17M447.07,376.23v12.17M455.24,376.23v12.17M463.40,376.23v12.17M471.57,376.23v12.17M479.73,376.23v12.17M487.90,376.23v12.17M496.06,376.23v12.17M161.30,376.23H496.06M161.30,388.40H496.06" fill="none" stroke="#ebebeb" stroke-width="0.9"/>
<path d="M267.75,376.53h7.56v11.57h-7.56z" fill="#12a650"/>
<text class="num" y="396.60" text-anchor="middle"><tspan x="165.38">5</tspan><tspan x="173.55">4</tspan><tspan x="181.71">4</tspan><tspan x="189.88">3</tspan><tspan x="198.04">3</tspan><tspan x="206.21">4</tspan><tspan x="214.37">5</tspan><tspan x="222.54">3</tspan><tspan x="230.70">3</tspan><tspan x="238.87">3</tspan><tspan x="247.03">2</tspan><tspan x="255.20">2</tspan><tspan x="263.36">3</tspan><tspan x="271.53">5</tspan><tspan x="279.69">2</tspan><tspan x="287.86">2</tspan><tspan x="296.02">2</tspan><tspan x="304.19">2</tspan><tspan x="312.35">4</tspan><tspan x="320.52">2</tspan><tspan x="328.68">2</tspan><tspan x="336.85">2</tspan><tspan x="345.01">2</tspan><tspan x="353.18">2</tspan><tspan x="361.34">3</tspan><tspan x="369.51">2</tspan><tspan x="377.67">2</tspan><tspan x="385.84">2</tspan><tspan x="394.00">1</tspan><tspan x="402.17">1</tspan><tspan x="410.33">1</tspan><tspan x="418.50">1</tspan><tspan x="426.66">1</tspan><tspan x="434.83">1</tspan><tspan x="442.99">1</tspan><tspan x="451.16">1</tspan><tspan x="459.32">1</tspan><tspan x="467.49">1</tspan><tspan x="475.65">1</tspan><tspan x="483.82">1</tspan><tspan x="491.98">3</tspan></text>
<path d="M161.30,399.80v11.40M169.46,399.80v11.40M177.63,399.80v11.40M185.79,399.80v11.40M193.96,399.80v11.40M202.12,399.80v11.40M210.29,399.80v11.40M218.45,399.80v11.40M226.62,399.80v11.40M234.78,399.80v11.40M242.95,399.80v11.40M251.11,399.80v11.40M259.28,399.80v11.40M267.44,399.80v11.40M275.61,399.80v11.40M283.77,399.80v11.40M291.94,399.80v11.40M300.10,399.80v11.40M308.27,399.80v11.40M316.44,399.80v11.40M324.60,399.80v11.40M332.76,399.80v11.40M340.93,399.80v11.40M349.09,399.80v11.40M357.26,399.80v11.40M365.42,399.80v11.40M373.59,399.80v11.40M381.75,399.80v11.40M389.92,399.80v11.40M398.08,399.80v11.40M406.25,399.80v11.40M414.41,399.80v11.40M422.58,399.80v11.40M430.74,399.80v11.40M438.91,399.80v11.40M447.07,399.80v11.40M455.24,399.80v11.40M463.40,399.80v11.40M471.57,399.80v11.40M479.73,399.80v11.40M487.90,399.80v11.40M496.06,399.80v11.40M161.30,399.80H496.06M161.30,411.20H496.06" fill="none" stroke="#ebebeb" stroke-width="0.9"/>
<path d="M161.60,400.10h7.56v10.80h-7.56zM186.09,400.10h7.56v10.80h-7.56zM218.75,400.10h7.56v10.80h-7.56zM226.92,400.10h7.56v10.80h-7.56zM251.41,400.10h7.56v10.80h-7.56zM259.58,400.10h7.56v10.80h-7.56zM275.91,400.10h7.56v10.80h-7.56zM284.07,400.10h7.56v10.80h-7.56zM292.24,400.10h7.56v10.80h-7.56zM308.57,400.10h7.56v10.80h-7.56zM316.74,400.10h7.56v10.80h-7.56zM324.90,400.10h7.56v10.80h-7.56zM333.06,400.10h7.56v10.80h-7.56zM341.23,400.10h7.56v10.80h-7.56zM349.39,400.10h7.56v10.80h-7.56zM357.56,400.10h7.56v10.80h-7.56zM365.72,400.10h7.56v10.80h-7.56zM373.89,400.10h7.56v10.80h-7.56zM382.05,400.10h7.56v10.80h-7.56zM390.22,400.10h7.56v10.80h-7.56zM422.88,400.10h7.56v10.80h-7.56zM431.04,400.10h7.56v10.80h-7.56zM439.21,400.10h7.56v10.80h-7.56zM447.38,400.10h7.56v10.80h-7.56zM455.54,400.10h7.56v10.80h-7.56zM471.87,400.10h7.56v10.80h-7.56zM480.03,400.10h7.56v10.80h-7.56zM488.20,400.10h7.56v10.80h-7.56z" fill="#555555"/>
<path d="M161.30,411.20v11.30M169.46,411.20v11.30M177.63,411.20v11.30M185.79,411.20v11.30M193.96,411.20v11.30M202.12,411.20v11.30M210.29,411.20v11.30M218.45,411.20v11.30M226.62,411.20v11.30M234.78,411.20v11.30M242.95,411.20v11.30M251.11,411.20v11.30M259.28,411.20v11.30M267.44,411.20v11.30M275.61,411.20v11.30M283.77,411.20v11.30M291.94,411.20v11.30M300.10,411.20v11.30M308.27,411.20v11.30M316.44,411.20v11.30M324.60,411.20v11.30M332.76,411.20v11.30M340.93,411.20v11.30M349.09,411.20v11.30M357.26,411.20v11.30M365.42,411.20v11.30M373.59,411.20v11.30M381.75,411.20v11.30M389.92,411.20v11.30M398.08,411.20v11.30M406.25,411.20v11.30M414.41,411.20v11.30M422.58,411.20v11.30M430.74,411.20v11.30M438.91,411.20v11.30M447.07,411.20v11.30M455.24,411.20v11.30M463.40,411.20v11.30M471.57,411.20v11.30M479.73,411.20v11.30M487.90,411.20v11.30M496.06,411.20v11.30M161.30,411.20H496.06M161.30,422.50H496.06" fill="none" stroke="#fbfbfb" stroke-width="0.9"/>
<path d="M161.60,411.50h7.56v10.70h-7.56zM186.09,411.50h7.56v10.70h-7.56zM194.26,411.50h7.56v10.70h-7.56zM218.75,411.50h7.56v10.70h-7.56zM226.92,411.50h7.56v10.70h-7.56zM243.25,411.50h7.56v10.70h-7.56zM259.58,411.50h7.56v10.70h-7.56zM267.75,411.50h7.56v10.70h-7.56zM275.91,411.50h7.56v10.70h-7.56zM284.07,411.50h7.56v10.70h-7.56zM292.24,411.50h7.56v10.70h-7.56zM300.40,411.50h7.56v10.70h-7.56zM308.57,411.50h7.56v10.70h-7.56zM316.74,411.50h7.56v10.70h-7.56zM324.90,411.50h7.56v10.70h-7.56zM333.06,411.50h7.56v10.70h-7.56zM341.23,411.50h7.56v10.70h-7.56zM349.39,411.50h7.56v10.70h-7.56zM357.56,411.50h7.56v10.70h-7.56zM365.72,411.50h7.56v10.70h-7.56zM373.89,411.50h7.56v10.70h-7.56zM382.05,411.50h7.56v10.70h-7.56zM390.22,411.50h7.56v10.70h-7.56zM398.38,411.50h7.56v10.70h-7.56zM406.55,411.50h7.56v10.70h-7.56zM422.88,411.50h7.56v10.70h-7.56zM431.04,411.50h7.56v10.70h-7.56zM439.21,411.50h7.56v10.70h-7.56zM447.38,411.50h7.56v10.70h-7.56zM455.54,411.50h7.56v10.70h-7.56zM463.70,411.50h7.56v10.70h-7.56zM471.87,411.50h7.56v10.70h-7.56zM480.03,411.50h7.56v10.70h-7.56zM488.20,411.50h7.56v10.70h-7.56z" fill="#555555"/>
<text class="lab b" x="159.4" y="41.48" text-anchor="end">Entity</text>
<text class="pc" x="507.6" y="40.88" text-anchor="middle">(%)</text>
<text class="lab b" x="159.4" y="52.93" text-anchor="end">Activated Signaling</text>
<text class="pc" x="518.4" y="52.33" text-anchor="end">98</text>
<text class="lab b" x="159.4" y="64.38" text-anchor="end">Myeloid Transcription Factor</text>
<text class="pc" x="518.4" y="63.78" text-anchor="end">32</text>
<text class="lab b" x="159.4" y="75.82" text-anchor="end">Splice Factor</text>
<text class="pc" x="518.4" y="75.22" text-anchor="end">29</text>
<text class="lab b" x="159.4" y="87.27" text-anchor="end">Epigenetic Modifier</text>
<text class="pc" x="518.4" y="86.67" text-anchor="end">29</text>
<text class="lab b" x="159.4" y="98.72" text-anchor="end">Tumor Suppressor</text>
<text class="pc" x="518.4" y="98.12" text-anchor="end">10</text>
<text class="lab b" x="159.4" y="110.17" text-anchor="end">DNA Methylation</text>
<text class="pc" x="518.4" y="109.57" text-anchor="end">10</text>
<text class="lab b" x="159.4" y="121.92" text-anchor="end">Cohesin</text>
<text class="pc" x="518.4" y="121.33" text-anchor="end">5</text>
<text class="lab i" x="158.2" y="133.54" text-anchor="end">FLT3</text>
<text class="pc" x="518.4" y="133.34" text-anchor="end">15</text>
<text class="lab i" x="158.2" y="145.52" text-anchor="end">CBL</text>
<text class="pc" x="518.4" y="145.32" text-anchor="end">7</text>
<text class="lab i" x="158.2" y="157.50" text-anchor="end">BCR-ABL1</text>
<text class="pc" x="518.4" y="157.30" text-anchor="end">12</text>
<text class="lab i" x="158.2" y="169.48" text-anchor="end">KIT</text>
<text class="pc" x="518.4" y="169.28" text-anchor="end">2</text>
<text class="lab i" x="158.2" y="181.46" text-anchor="end">NRAS</text>
<text class="pc" x="518.4" y="181.26" text-anchor="end">29</text>
<text class="lab i" x="158.2" y="193.44" text-anchor="end">KRAS</text>
<text class="pc" x="518.4" y="193.24" text-anchor="end">12</text>
<text class="lab i" x="158.2" y="205.42" text-anchor="end">PTPN11</text>
<text class="pc" x="518.4" y="205.22" text-anchor="end">22</text>
<text class="lab i" x="158.2" y="217.40" text-anchor="end">NF1</text>
<text class="pc" x="518.4" y="217.20" text-anchor="end">10</text>
<text class="lab i" x="158.2" y="229.38" text-anchor="end">GATA2</text>
<text class="pc" x="518.4" y="229.18" text-anchor="end">15</text>
<text class="lab i" x="158.2" y="241.36" text-anchor="end">RUNX1</text>
<text class="pc" x="518.4" y="241.16" text-anchor="end">12</text>
<text class="lab i" x="158.2" y="253.34" text-anchor="end">FOXP1</text>
<text class="pc" x="518.4" y="253.14" text-anchor="end">10</text>
<text class="lab i" x="158.2" y="265.32" text-anchor="end">SF3B1</text>
<text class="pc" x="518.4" y="265.12" text-anchor="end">27</text>
<text class="lab i" x="158.2" y="277.30" text-anchor="end">ZRSR2</text>
<text class="pc" x="518.4" y="277.10" text-anchor="end">2</text>
<text class="lab i" x="158.2" y="289.28" text-anchor="end">BCOR</text>
<text class="pc" x="518.4" y="289.08" text-anchor="end">15</text>
<text class="lab i" x="158.2" y="301.26" text-anchor="end">NCOR</text>
<text class="pc" x="518.4" y="301.06" text-anchor="end">2</text>
<text class="lab i" x="158.2" y="313.24" text-anchor="end">ASXL1</text>
<text class="pc" x="518.4" y="313.04" text-anchor="end">12</text>
<text class="lab i" x="158.2" y="325.22" text-anchor="end">TP53</text>
<text class="pc" x="518.4" y="325.02" text-anchor="end">5</text>
<text class="lab i" x="158.2" y="337.20" text-anchor="end">WT1</text>
<text class="pc" x="518.4" y="337.00" text-anchor="end">7</text>
<text class="lab i" x="158.2" y="349.18" text-anchor="end">DNMT3A</text>
<text class="pc" x="518.4" y="348.98" text-anchor="end">5</text>
<text class="lab i" x="158.2" y="361.16" text-anchor="end">TET2</text>
<text class="pc" x="518.4" y="360.96" text-anchor="end">5</text>
<text class="lab i" x="158.2" y="373.14" text-anchor="end">SMC1A</text>
<text class="pc" x="518.4" y="372.94" text-anchor="end">2</text>
<text class="lab i" x="158.2" y="385.21" text-anchor="end">RAD21</text>
<text class="pc" x="518.4" y="385.01" text-anchor="end">2</text>
<text class="lab b" x="159.4" y="397.40" text-anchor="end">Number of driver mutations</text>
<text class="pc" x="518.4" y="396.80" text-anchor="end"><tspan font-size="9.6" font-weight="normal" dy="1.5">∅</tspan><tspan dy="-1.5" font-size="5.5"> </tspan><tspan>2,3</tspan></text>
<text class="lab b" x="159.4" y="408.80" text-anchor="end">Monosomy 7</text>
<text class="pc" x="518.4" y="408.20" text-anchor="end">68</text>
<text class="lab b" x="159.4" y="420.15" text-anchor="end">Additional chromosome aberrations</text>
<text class="pc" x="518.4" y="419.55" text-anchor="end">83</text>
<rect x="469.6" y="0.30" width="16.4" height="6.2" fill="#2f5c9b" stroke="#222" stroke-width="0.8"/>
<text class="b" font-size="8.3" transform="translate(488.7,6.2) scale(.94,1)">AML</text>
<rect x="469.6" y="7.00" width="16.4" height="6.2" fill="#bdd0e9" stroke="#222" stroke-width="0.8"/>
<text class="b" font-size="8.3" transform="translate(488.7,12.3) scale(.94,1)">MDS</text>
<rect x="469.6" y="13.70" width="16.4" height="6.2" fill="#f6b97c" stroke="#222" stroke-width="0.8"/>
<text class="b" font-size="8.3" transform="translate(488.7,19.4) scale(.94,1)">CML-BC</text>
<text class="b" font-size="17" x="1.9" y="15.9" stroke="#111" stroke-width=".3">A</text>
<text class="b" font-size="17" x="2.1" y="461.4" stroke="#111" stroke-width=".3">B</text>
<text class="b" font-size="10.82" x="113.5" y="461">Mutational categories in inv(3)/t(3;3) myeloid malignancies</text>
<text class="b" font-size="10.9" x="49.8" y="489.8">Activated signaling (40/41)</text>
<defs><radialGradient id="pa0" gradientUnits="userSpaceOnUse" cx="120.8" cy="613.9" r="97.2"><stop offset="0" stop-color="#1d4f93"/><stop offset="1" stop-color="#24467c"/></radialGradient><radialGradient id="pa1" gradientUnits="userSpaceOnUse" cx="120.8" cy="613.9" r="97.2"><stop offset="0" stop-color="#0d45a4"/><stop offset="1" stop-color="#0c3f98"/></radialGradient><radialGradient id="pa2" gradientUnits="userSpaceOnUse" cx="120.8" cy="613.9" r="97.2"><stop offset="0" stop-color="#2f63cf"/><stop offset="1" stop-color="#2456a8"/></radialGradient><radialGradient id="pa3" gradientUnits="userSpaceOnUse" cx="120.8" cy="613.9" r="97.2"><stop offset="0" stop-color="#2f7fc4"/><stop offset="1" stop-color="#2469b4"/></radialGradient><radialGradient id="pa4" gradientUnits="userSpaceOnUse" cx="120.8" cy="613.9" r="97.2"><stop offset="0" stop-color="#4a7cbc"/><stop offset="1" stop-color="#4676b6"/></radialGradient><radialGradient id="pa5" gradientUnits="userSpaceOnUse" cx="120.8" cy="613.9" r="97.2"><stop offset="0" stop-color="#7d98c8"/><stop offset="1" stop-color="#8aa2cf"/></radialGradient><radialGradient id="pa6" gradientUnits="userSpaceOnUse" cx="120.8" cy="613.9" r="97.2"><stop offset="0" stop-color="#9fb2d6"/><stop offset="1" stop-color="#a9badb"/></radialGradient><radialGradient id="pa7" gradientUnits="userSpaceOnUse" cx="120.8" cy="613.9" r="97.2"><stop offset="0" stop-color="#b4c2dc"/><stop offset="1" stop-color="#bcc8df"/></radialGradient></defs><path d="M120.8,613.9 L120.80,516.70 A97.2,97.2 0 0 1 217.47,624.06 Z" fill="url(#pa0)" stroke="#fff" stroke-width="0.7" stroke-linejoin="round"/><path d="M120.8,613.9 L217.47,624.06 A97.2,97.2 0 0 1 141.01,708.98 Z" fill="url(#pa1)" stroke="#fff" stroke-width="0.7" stroke-linejoin="round"/><path d="M120.8,613.9 L141.01,708.98 A97.2,97.2 0 0 1 63.67,692.54 Z" fill="url(#pa2)" stroke="#fff" stroke-width="0.7" stroke-linejoin="round"/><path d="M120.8,613.9 L63.67,692.54 A97.2,97.2 0 0 1 26.49,637.41 Z" fill="url(#pa3)" stroke="#fff" stroke-width="0.7" stroke-linejoin="round"/><path d="M120.8,613.9 L26.49,637.41 A97.2,97.2 0 0 1 33.44,571.29 Z" fill="url(#pa4)" stroke="#fff" stroke-width="0.7" stroke-linejoin="round"/><path d="M120.8,613.9 L33.44,571.29 A97.2,97.2 0 0 1 69.29,531.47 Z" fill="url(#pa5)" stroke="#fff" stroke-width="0.7" stroke-linejoin="round"/><path d="M120.8,613.9 L69.29,531.47 A97.2,97.2 0 0 1 107.27,517.65 Z" fill="url(#pa6)" stroke="#fff" stroke-width="0.7" stroke-linejoin="round"/><path d="M120.8,613.9 L107.27,517.65 A97.2,97.2 0 0 1 120.80,516.70 Z" fill="url(#pa7)" stroke="#fff" stroke-width="0.7" stroke-linejoin="round"/>
<text class="pl" transform="translate(198.7,547.8) rotate(48)" text-anchor="middle">NRAS(27%)</text>
<text class="pl" transform="translate(198.2,688.4) rotate(-46)" text-anchor="middle">PTPN11(20%)</text>
<text class="pl" transform="translate(100.5,721.8) rotate(10.5)" text-anchor="middle">FLT3(13%)</text>
<text class="pl" transform="translate(32.2,673.8) rotate(55)" text-anchor="middle">BCR-ABL1(11%)</text>
<text class="pl" transform="translate(20.6,603.3) rotate(-83)" text-anchor="middle">KRAS(11%)</text>
<text class="pl" transform="translate(46.5,544) rotate(-47)" text-anchor="middle">NF1(9%)</text>
<text class="pl" transform="translate(84,519) rotate(-21)" text-anchor="middle">CBL(7%)</text>
<text class="pl" transform="translate(120.7,511) rotate(0)" text-anchor="middle">KIT(2%)</text>
<text class="st" x="399.8" y="495.6" text-anchor="middle">Transcription factor (14/41)</text>
<defs><radialGradient id="pt0" gradientUnits="userSpaceOnUse" cx="399.5" cy="546.5" r="40"><stop offset="0" stop-color="#b8343c"/><stop offset="1" stop-color="#8a1b23"/></radialGradient><radialGradient id="pt1" gradientUnits="userSpaceOnUse" cx="399.5" cy="546.5" r="40"><stop offset="0" stop-color="#d4454c"/><stop offset="1" stop-color="#b82830"/></radialGradient><radialGradient id="pt2" gradientUnits="userSpaceOnUse" cx="399.5" cy="546.5" r="40"><stop offset="0" stop-color="#f3a3a3"/><stop offset="1" stop-color="#d48888"/></radialGradient></defs><path d="M399.5,546.5 L399.50,506.50 A40,40 0 0 1 423.01,578.86 Z" fill="url(#pt0)" stroke="#fff" stroke-width="0.7" stroke-linejoin="round"/><path d="M399.5,546.5 L423.01,578.86 A40,40 0 0 1 359.72,550.68 Z" fill="url(#pt1)" stroke="#fff" stroke-width="0.7" stroke-linejoin="round"/><path d="M399.5,546.5 L359.72,550.68 A40,40 0 0 1 399.50,506.50 Z" fill="url(#pt2)" stroke="#fff" stroke-width="0.7" stroke-linejoin="round"/>
<path id="ap1" d="M375.99,510.98 A42.6,42.6 0 1 1 380.49,584.62" fill="none"/><text class="sl" ><textPath href="#ap1" startOffset="50%" text-anchor="middle" textLength="41" lengthAdjust="spacingAndGlyphs">GATA2(40%)</textPath></text>
<path id="ap2" d="M392.05,588.75 A42.9,42.9 0 1 1 439.81,531.83" fill="none"/><text class="sl" ><textPath href="#ap2" startOffset="50%" text-anchor="middle" textLength="41" lengthAdjust="spacingAndGlyphs">FOXP1(27%)</textPath></text>
<path id="ap3" d="M370.82,505.54 A50,50 0 1 0 449.31,542.14" fill="none"/><text class="sl" ><textPath href="#ap3" startOffset="50%" text-anchor="middle" textLength="44" lengthAdjust="spacingAndGlyphs">RUNX1(33%)</textPath></text>
<text class="st" x="335.4" y="607.5" text-anchor="middle">Splice factor (12/41)</text>
<defs><radialGradient id="ps0" gradientUnits="userSpaceOnUse" cx="337" cy="662.8" r="40"><stop offset="0" stop-color="#e67e22"/><stop offset="1" stop-color="#dc7519"/></radialGradient><radialGradient id="ps1" gradientUnits="userSpaceOnUse" cx="337" cy="662.8" r="40"><stop offset="0" stop-color="#e2843f"/><stop offset="1" stop-color="#e89862"/></radialGradient></defs><path d="M337,662.8 L337.00,622.80 A40,40 0 1 1 317.00,628.16 Z" fill="url(#ps0)" stroke="#fff" stroke-width="0.7" stroke-linejoin="round"/><path d="M337,662.8 L317.00,628.16 A40,40 0 0 1 337.00,622.80 Z" fill="url(#ps1)" stroke="#fff" stroke-width="0.7" stroke-linejoin="round"/>
<text class="st" x="465.6" y="607.8" text-anchor="middle">Epigenetic modifier (12/41)</text>
<defs><radialGradient id="pe0" gradientUnits="userSpaceOnUse" cx="466.6" cy="662.8" r="40"><stop offset="0" stop-color="#7fae3c"/><stop offset="1" stop-color="#5d9222"/></radialGradient><radialGradient id="pe1" gradientUnits="userSpaceOnUse" cx="466.6" cy="662.8" r="40"><stop offset="0" stop-color="#9ad24a"/><stop offset="1" stop-color="#7fc02e"/></radialGradient><radialGradient id="pe2" gradientUnits="userSpaceOnUse" cx="466.6" cy="662.8" r="40"><stop offset="0" stop-color="#b4c89e"/><stop offset="1" stop-color="#9cb97a"/></radialGradient></defs><path d="M466.6,662.8 L466.60,622.80 A40,40 0 0 1 466.60,702.80 Z" fill="url(#pe0)" stroke="#fff" stroke-width="0.7" stroke-linejoin="round"/><path d="M466.6,662.8 L466.60,702.80 A40,40 0 0 1 446.60,628.16 Z" fill="url(#pe1)" stroke="#fff" stroke-width="0.7" stroke-linejoin="round"/><path d="M466.6,662.8 L446.60,628.16 A40,40 0 0 1 466.60,622.80 Z" fill="url(#pe2)" stroke="#fff" stroke-width="0.7" stroke-linejoin="round"/>
<path id="ap4" d="M305.59,691.58 A42.6,42.6 0 1 1 377.63,675.61" fill="none"/><text class="sl" ><textPath href="#ap4" startOffset="50%" text-anchor="middle" textLength="38" lengthAdjust="spacingAndGlyphs">ZRSR2(8%)</textPath></text>
<path id="ap5" d="M290.94,644.66 A49.5,49.5 0 1 0 375.74,631.99" fill="none"/><text class="sl" ><textPath href="#ap5" startOffset="50%" text-anchor="middle" textLength="42" lengthAdjust="spacingAndGlyphs">SF3B1(92%)</textPath></text>
<path id="ap6" d="M434.45,690.75 A42.6,42.6 0 1 1 506.88,676.67" fill="none"/><text class="sl" ><textPath href="#ap6" startOffset="50%" text-anchor="middle" textLength="40" lengthAdjust="spacingAndGlyphs">NCOR1(8%)</textPath></text>
<path id="ap7" d="M442.17,627.90 A42.6,42.6 0 1 1 448.60,701.41" fill="none"/><text class="sl" ><textPath href="#ap7" startOffset="50%" text-anchor="middle" textLength="37" lengthAdjust="spacingAndGlyphs">BCOR(50%)</textPath></text>
<path id="ap8" d="M475.20,614.05 A49.5,49.5 0 1 0 504.52,694.62" fill="none"/><text class="sl" ><textPath href="#ap8" startOffset="50%" text-anchor="middle" textLength="44" lengthAdjust="spacingAndGlyphs">ASXL1(42%)</textPath></text>
</svg>
</body></html>
